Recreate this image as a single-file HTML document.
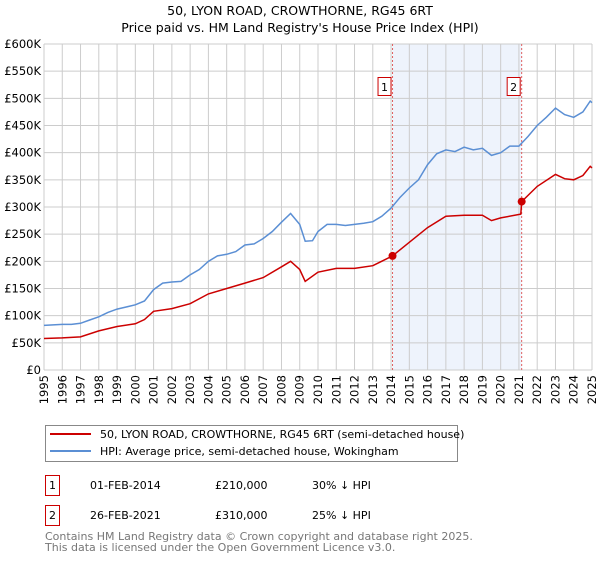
<!DOCTYPE html>
<html><head><meta charset="utf-8"><style>
body{margin:0;background:#fff;font-family:"Liberation Sans","DejaVu Sans",sans-serif;}
svg text{font-family:"DejaVu Sans","Liberation Sans",sans-serif;}
</style></head><body>
<svg id="c" width="600" height="560" viewBox="0 0 600 560" xmlns="http://www.w3.org/2000/svg">
<text x="300" y="15" text-anchor="middle" font-size="12.5">50, LYON ROAD, CROWTHORNE, RG45 6RT</text>
<text x="300" y="32" text-anchor="middle" font-size="12.5">Price paid vs. HM Land Registry's House Price Index (HPI)</text>
<g id="plot"></g>
<g>
<rect x="45.5" y="425.5" width="412" height="36" fill="#fff" stroke="#888"/>
<line x1="50" y1="434" x2="91" y2="434" stroke="#cc0000" stroke-width="2"/>
<text x="100" y="438" font-size="11">50, LYON ROAD, CROWTHORNE, RG45 6RT (semi-detached house)</text>
<line x1="50" y1="451" x2="91" y2="451" stroke="#5b8fd4" stroke-width="2"/>
<text x="100" y="455" font-size="11">HPI: Average price, semi-detached house, Wokingham</text>
</g>
<g font-size="11">
<rect x="45.5" y="475.5" width="14" height="20" fill="#fff" stroke="#cc0000"/>
<text x="52.5" y="489" text-anchor="middle">1</text>
<text x="90" y="489">01-FEB-2014</text><text x="215" y="489">£210,000</text><text x="312" y="489">30% ↓ HPI</text>
<rect x="45.5" y="505.5" width="14" height="20" fill="#fff" stroke="#cc0000"/>
<text x="52.5" y="519" text-anchor="middle">2</text>
<text x="90" y="519">26-FEB-2021</text><text x="215" y="519">£310,000</text><text x="312" y="519">25% ↓ HPI</text>
</g>
<text x="45" y="540" font-size="11" fill="#777">Contains HM Land Registry data © Crown copyright and database right 2025.</text>
<text x="45" y="551" font-size="11" fill="#777">This data is licensed under the Open Government Licence v3.0.</text>
</svg>
<script>
const hpiYears=[1995,1995.5,1996,1996.5,1997,1997.5,1998,1998.5,1999,1999.5,2000,2000.5,2001,2001.5,2002,2002.5,2003,2003.5,2004,2004.5,2005,2005.5,2006,2006.5,2007,2007.5,2008,2008.5,2009,2009.3,2009.7,2010,2010.5,2011,2011.5,2012,2012.5,2013,2013.5,2014,2014.5,2015,2015.5,2016,2016.5,2017,2017.5,2018,2018.5,2019,2019.5,2020,2020.5,2021,2021.5,2022,2022.5,2023,2023.5,2024,2024.5,2024.9,2025];
const hpiValues=[82,83,84,84,86,92,98,106,112,116,120,127,148,160,162,163,175,185,200,210,213,218,230,232,242,255,272,288,268,237,238,255,268,268,266,268,270,273,283,298,318,335,350,378,398,405,402,410,405,408,395,400,412,412,430,450,465,482,470,465,475,495,492];
const propYears=[1995,1996,1997,1998,1999,2000,2000.5,2001,2002,2003,2004,2005,2006,2007,2008,2008.5,2009,2009.3,2010,2011,2012,2013,2014.08,2015,2016,2017,2018,2019,2019.5,2020,2021.1,2021.15,2022,2023,2023.5,2024,2024.5,2024.9,2025];
const propValues=[58,59,61,72,80,85,93,108,113,122,140,150,160,170,190,200,185,163,180,187,187,192,210,235,262,283,285,285,275,280,287,310,338,360,352,350,358,375,372];
const yTicks=[0,50,100,150,200,250,300,350,400,450,500,550,600];
const xTicks=[1995,1996,1997,1998,1999,2000,2001,2002,2003,2004,2005,2006,2007,2008,2009,2010,2011,2012,2013,2014,2015,2016,2017,2018,2019,2020,2021,2022,2023,2024,2025];
const saleYears=[2014.08,2021.15];
const saleValues=[210,310];
const saleLabels=['1','2'];
const X0=44,X1=592,Y0=370,Y1=44;
const xs=y=>X0+(y-1995)/30*(X1-X0);
const ys=v=>Y0-v/600*(Y0-Y1);
const NS='http://www.w3.org/2000/svg';
const g=document.getElementById('plot');
function mk(t,a){const e=document.createElementNS(NS,t);for(const k in a)e.setAttribute(k,a[k]);g.appendChild(e);return e;}
const band=mk('rect',{x:xs(saleYears[0]),y:Y1,width:xs(saleYears[1])-xs(saleYears[0]),height:Y0-Y1,fill:'#eef3fc'});


yTicks.forEach(t=>{
 const l=mk('line',{x1:X0,x2:X1,y1:ys(t),y2:ys(t),stroke:'#ccc'});
 
 
 const tx=mk('text',{x:X0-3,y:ys(t)+4,'text-anchor':'end','font-size':'11.5'});
 tx.textContent='£'+t+(t?'K':'');
 
 
});
xTicks.forEach(t=>{
 const l=mk('line',{x1:xs(t),x2:xs(t),y1:Y1,y2:Y0,stroke:'#ccc'});
 
 
 const px=xs(t)+4, py=375;
 const tx=mk('text',{x:px,y:py,'text-anchor':'end','font-size':'11.5',transform:'rotate(-90 '+px+' '+py+')'});
 tx.textContent=t;
 
 
});
saleYears.forEach((s,i)=>{
 const l=mk('line',{x1:xs(s),x2:xs(s),y1:Y1,y2:Y0,stroke:'#e06060','stroke-dasharray':'2,2'});
 
 
 const r=mk('rect',{x:xs(s)-14.5,y:77.5,width:13,height:18,fill:'#fff',stroke:'#cc0000'});
 
 
 const tx=mk('text',{x:xs(s)-8,y:91,'text-anchor':'middle','font-size':'11'});
 tx.textContent=saleLabels[i];
 
 
});
function path(xa,va){return xa.map((x,i)=>(i?'L':'M')+xs(x).toFixed(1)+','+ys(va[i]).toFixed(1)).join('');}
const hp=mk('path',{d:path(hpiYears,hpiValues),fill:'none',stroke:'#5b8fd4','stroke-width':'1.5'});


const pp=mk('path',{d:path(propYears,propValues),fill:'none',stroke:'#cc0000','stroke-width':'1.5'});


saleYears.forEach((s,i)=>{
 const c=mk('circle',{cx:xs(s),cy:ys(saleValues[i]),r:4,fill:'#cc0000'});
 
 
});
</script>
</body></html>
